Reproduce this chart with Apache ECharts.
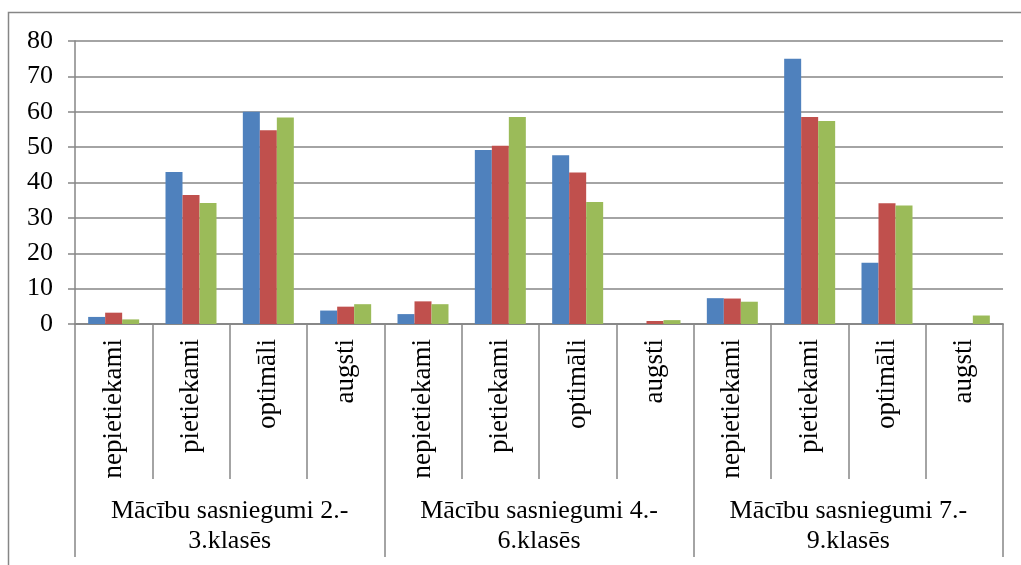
<!DOCTYPE html>
<html lang="lv">
<head>
    <meta charset="utf-8">
    <title>Mācību sasniegumi</title>
    <script src="https://cdn.jsdelivr.net/npm/echarts@6/dist/echarts.min.js"></script>
    <style>
        html, body { margin: 0; padding: 0; background: #fff; }
        #chart { width: 1021px; height: 565px; }
    </style>
</head>
<body>
    <div id="chart"></div>
    <script>
        // apakškategorijas un grupas
        var levels = ['nepietiekami', 'pietiekami', 'optimāli', 'augsti'];
        var groups = ['Mācību sasniegumi 2.-\n3.klasēs', 'Mācību sasniegumi 4.-\n6.klasēs', 'Mācību sasniegumi 7.-\n9.klasēs'];
        var categories = [].concat(levels, levels, levels);

        // trīs sērijas (zila, sarkana, zaļa)
        var seriesBlue  = [2.0, 43.0, 60.0, 3.8,  2.8, 49.2, 47.7, 0,    7.3, 75.0, 17.3, 0];
        var seriesRed   = [3.2, 36.5, 54.8, 4.9,  6.4, 50.4, 42.8, 0.85, 7.2, 58.5, 34.1, 0];
        var seriesGreen = [1.3, 34.2, 58.4, 5.6,  5.6, 58.5, 34.5, 1.1,  6.3, 57.4, 33.5, 2.4];

        var yTicks = [0, 10, 20, 30, 40, 50, 60, 70, 80];

        var font = 'Liberation Serif';
        var gray = '#868686';

        var chart = echarts.init(document.getElementById('chart'));

        var option = {
            animation: false,
            graphic: [{
                type: 'rect',
                shape: { x: 8.5, y: 12.5, width: 1100, height: 700 },
                style: { fill: 'none', stroke: gray, lineWidth: 1.5 },
                silent: true
            }],
            grid: { left: 75, right: 18, top: 41, bottom: 241 },
            xAxis: [{
                type: 'category',
                data: categories,
                position: 'bottom',
                axisLine: { show: true, lineStyle: { color: gray, width: 1.5 } },
                axisTick: { show: true, interval: 0, length: 155, lineStyle: { color: gray, width: 1.5 } },
                axisLabel: {
                    interval: 0, rotate: 90, margin: 15,
                    color: '#000', fontFamily: font, fontSize: 27
                }
            }, {
                type: 'category',
                data: groups,
                position: 'bottom',
                axisLine: { show: true, lineStyle: { color: gray, width: 1.5 } },
                axisTick: { show: true, interval: 0, length: 233, lineStyle: { color: gray, width: 1.5 } },
                axisLabel: {
                    interval: 0, margin: 172, lineHeight: 30,
                    color: '#000', fontFamily: font, fontSize: 26
                }
            }],
            yAxis: {
                type: 'value',
                min: yTicks[0],
                max: yTicks[yTicks.length - 1],
                interval: 10,
                axisLine: { show: true, lineStyle: { color: gray, width: 1.5 } },
                axisTick: { show: true, length: 7, lineStyle: { color: gray, width: 1.5 } },
                axisLabel: { margin: 22, color: '#000', fontFamily: font, fontSize: 26 },
                splitLine: { show: true, lineStyle: { color: gray, width: 1.5 } }
            },
            series: [
                { type: 'bar', data: seriesBlue, barWidth: 17, barGap: '0%', itemStyle: { color: '#4F81BD' } },
                { type: 'bar', data: seriesRed, barWidth: 17, barGap: '0%', itemStyle: { color: '#C0504D' } },
                { type: 'bar', data: seriesGreen, barWidth: 17, barGap: '0%', itemStyle: { color: '#9BBB59' } }
            ]
        };

        chart.setOption(option);
    </script>
</body>
</html>
